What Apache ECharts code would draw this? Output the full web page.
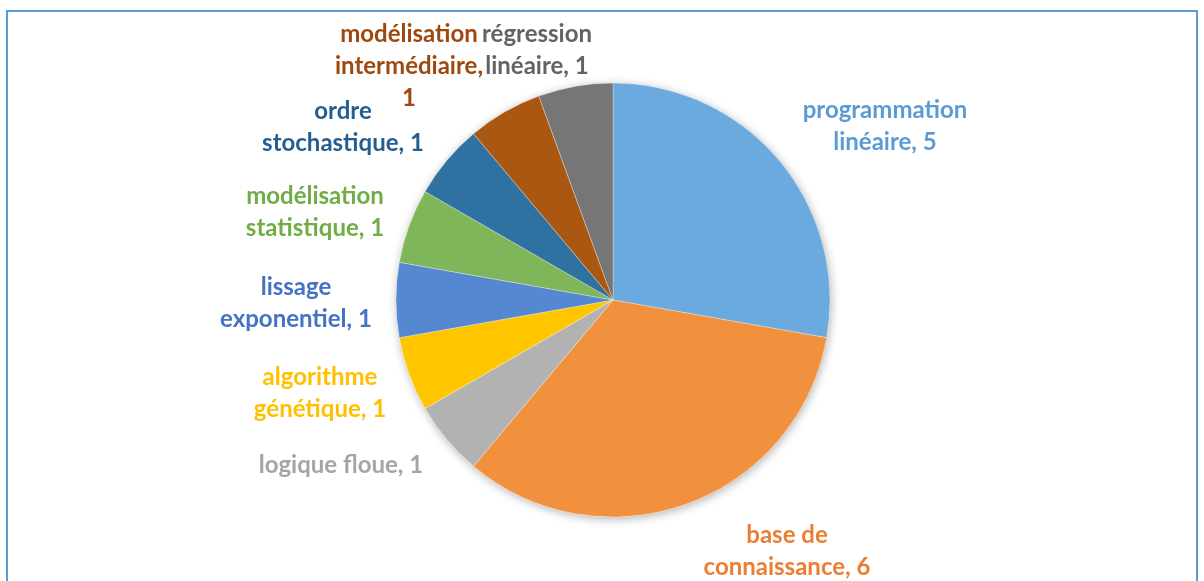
<!DOCTYPE html>
<html>
<head>
<meta charset="utf-8">
<script src="https://cdn.jsdelivr.net/npm/echarts@6/dist/echarts.min.js"></script>
<style>
  html, body { margin: 0; padding: 0; background: #fff; }
  #main { width: 1204px; height: 581px; }
</style>
</head>
<body>
<div id="main"></div>
<script>
// données
var categories = ['programmation linéaire', 'base de connaissance', 'logique floue',
    'algorithme génétique', 'lissage exponentiel', 'modélisation statistique',
    'ordre stochastique', 'modélisation intermédiaire', 'régression linéaire'];
var values = [5, 6, 1, 1, 1, 1, 1, 1, 1];
// texte des étiquettes avec retours à la ligne
var labelTexts = ['programmation\nlinéaire, 5', 'base de\nconnaissance, 6', 'logique floue, 1',
    'algorithme\ngénétique, 1', 'lissage\nexponentiel, 1', 'modélisation\nstatistique, 1',
    'ordre\nstochastique, 1', 'modélisation\nintermédiaire,\n1', 'régression\nlinéaire, 1'];

var colors = ['#6aaade', '#f1913e', '#b2b2b2', '#ffc600', '#5588d0', '#7fb65a', '#2f71a1', '#aa5711', '#767676'];
var textColors = ['#5b9bd5', '#ed7d31', '#a5a5a5', '#ffc000', '#4472c4', '#70ad47', '#255e91', '#9e480e', '#636363'];
// centre des étiquettes (placement à la Excel)
var labelPos = [[885, 126], [787, 551], [341, 465], [320, 393], [296, 303], [315, 212], [343, 127], [409, 66], [537, 50]];

var chartDom = document.getElementById('main');
var myChart = echarts.init(chartDom);

var total = values.reduce(function (a, b) { return a + b; }, 0);

var option = {
    backgroundColor: '#fff',
    animation: false,
    graphic: [{
        type: 'rect',
        shape: { x: 7, y: 11, width: 1190, height: 600 },
        style: { fill: 'none', stroke: '#5b9bd5', lineWidth: 2 },
        silent: true,
        z: -10
    }],
    series: [
        {
            // ombre portée sous le camembert
            type: 'pie',
            silent: true,
            center: [613, 300],
            radius: 217,
            z: 1,
            label: { show: false },
            labelLine: { show: false },
            itemStyle: {
                color: '#fff',
                shadowBlur: 10,
                shadowColor: 'rgba(0,0,0,0.3)',
                shadowOffsetX: 1,
                shadowOffsetY: 2
            },
            data: [total]
        },
        {
            type: 'pie',
            center: [613, 300],
            radius: 217,
            startAngle: 90,
            clockwise: true,
            z: 2,
            itemStyle: {
                borderColor: 'rgba(255,255,255,0.6)',
                borderWidth: 0.5
            },
            label: {
                show: true,
                position: 'outside',
                fontFamily: 'Lato',
                fontWeight: 'bold',
                fontSize: 24,
                lineHeight: 32,
                align: 'center',
                formatter: function (p) { return labelTexts[p.dataIndex]; }
            },
            labelLine: { show: false },
            labelLayout: function (p) {
                var pos = labelPos[p.dataIndex];
                return { x: pos[0], y: pos[1], align: 'center', verticalAlign: 'middle' };
            },
            data: categories.map(function (name, i) {
                return {
                    name: name,
                    value: values[i],
                    itemStyle: { color: colors[i] },
                    label: { color: textColors[i] }
                };
            })
        }
    ]
};

myChart.setOption(option);
</script>
</body>
</html>
